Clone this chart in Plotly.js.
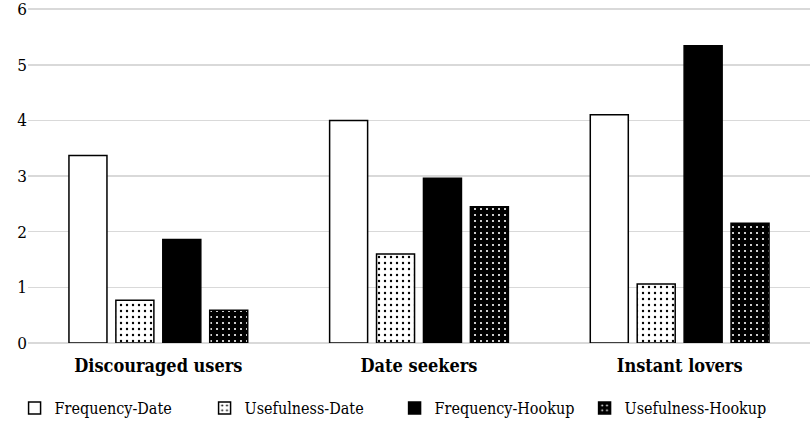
<!DOCTYPE html>
<html>
<head>
<meta charset="utf-8">
<script src="https://cdn.plot.ly/plotly-3.0.1.min.js"></script>
<style>html,body{margin:0;padding:0;background:#fff;}#chart{width:810px;height:425px;}</style>
</head>
<body>
<div id="chart"></div>
<script>
const categories = ["Discouraged users", "Date seekers", "Instant lovers"];
const seriesNames = ["Frequency-Date", "Usefulness-Date", "Frequency-Hookup", "Usefulness-Hookup"];
const frequencyDate = [3.37, 4.00, 4.10];
const usefulnessDate = [0.77, 1.60, 1.06];
const frequencyHookup = [1.86, 2.96, 5.34];
const usefulnessHookup = [0.59, 2.45, 2.15];
const yTicks = [0, 1, 2, 3, 4, 5, 6];

const font = "DejaVu Serif Condensed";
const values = [frequencyDate, usefulnessDate, frequencyHookup, usefulnessHookup];
const styles = [
  {color: "#ffffff"},
  {color: "#ffffff", pattern: {shape: ".", bgcolor: "#ffffff", fgcolor: "#000000", size: 6, solidity: 0.12}},
  {color: "#000000"},
  {color: "#000000", pattern: {shape: ".", bgcolor: "#000000", fgcolor: "#ffffff", size: 6, solidity: 0.1}}
];
const data = values.map((v, i) => ({
  type: "bar",
  name: seriesNames[i],
  x: categories,
  y: v,
  marker: Object.assign({line: {color: "#000000", width: 1.5}}, styles[i])
}));

const layout = {
  width: 810, height: 425,
  margin: {l: 28, r: 0, t: 8, b: 82},
  paper_bgcolor: "#fff", plot_bgcolor: "#fff",
  barmode: "group",
  bargap: 0.28,
  bargroupgap: 0.19,
  font: {family: font, color: "#000", size: 16},
  xaxis: {
    tickfont: {family: font, size: 18, color: "#000", weight: "bold"},
    showgrid: false, showline: false, ticks: "", ticklen: 0,
    ticklabelstandoff: 10
  },
  yaxis: {
    range: [0, 6.02], tickvals: yTicks, ticktext: yTicks.map(String),
    showgrid: true, gridcolor: "#d9d9d9", gridwidth: 1.5,
    zeroline: true, zerolinecolor: "#d9d9d9", zerolinewidth: 1.5,
    showline: false, ticks: "", ticklabeloverflow: "allow",
    tickfont: {family: font, size: 17, color: "#000"}
  },
  legend: {
    orientation: "h", xref: "container", x: 0.018, xanchor: "left",
    yref: "container", y: 0.0, yanchor: "bottom",
    font: {family: font, size: 16, color: "#000"},
    itemwidth: 30, traceorder: "normal", entrywidth: 145
  },
  showlegend: true
};
Plotly.newPlot("chart", data, layout, {displayModeBar: false, staticPlot: true});
</script>
</body>
</html>
